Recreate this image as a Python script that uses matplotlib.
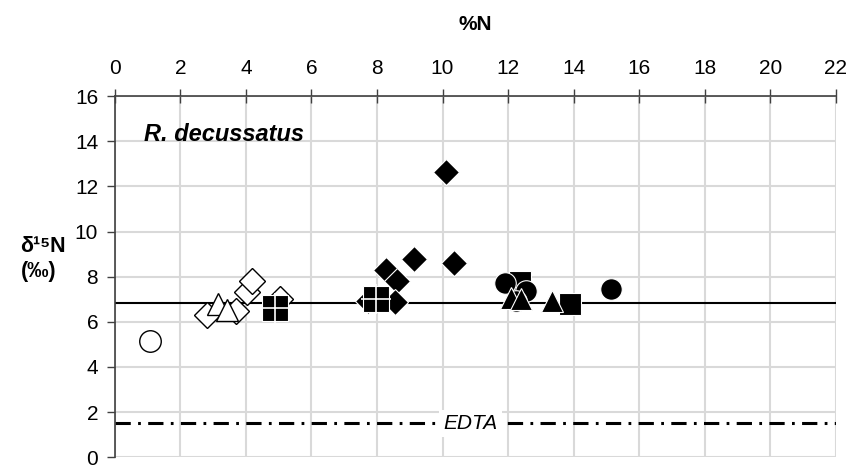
import matplotlib
matplotlib.use("Agg")
import matplotlib.pyplot as plt

# %N (x) and d15N (y) by sample group
open_circle_x = [1.07]
open_circle_y = [5.13]
open_diamond_x = [2.80, 3.71, 4.02, 4.17, 5.04]
open_diamond_y = [6.31, 6.49, 7.30, 7.81, 7.00]
open_triangle_x = [3.15, 3.41]
open_triangle_y = [6.80, 6.52]
filled_diamond_x = [10.12, 9.12, 10.35, 8.27, 8.60, 7.73, 8.54]
filled_diamond_y = [12.66, 8.77, 8.59, 8.30, 7.81, 6.93, 6.90]
cross_square_x = [4.88, 7.97]
cross_square_y = [6.62, 7.02]
filled_square_x = [12.35, 13.90]
filled_square_y = [7.75, 6.78]
filled_circle_x = [11.90, 12.56, 12.25, 15.15]
filled_circle_y = [7.74, 7.37, 6.93, 7.47]
filled_triangle_x = [12.10, 12.41, 13.33]
filled_triangle_y = [7.07, 7.00, 6.93]

reference_level = 6.85
edta_level = 1.5

x_ticks = list(range(0, 23, 2))
y_ticks = list(range(0, 17, 2))

narrow = ["Liberation Sans Narrow", "Liberation Sans", "DejaVu Sans"]
regular = ["Liberation Sans", "DejaVu Sans"]

fig = plt.figure(figsize=(8.51, 4.67), dpi=100)
ax = fig.add_axes([0.135, 0.021, 0.847, 0.773])
ax.set_xlim(0, 22)
ax.set_ylim(0, 16)

ax.set_xticks(x_ticks)
ax.set_yticks(y_ticks)
ax.grid(True, color="#d9d9d9", lw=1.5, zorder=0)
ax.set_axisbelow(True)

ax.xaxis.tick_top()
ax.xaxis.set_label_position("top")
ax.tick_params(axis="x", direction="inout", length=10, width=1, color="#404040",
               pad=8, labelsize=15)
ax.tick_params(axis="y", direction="out", length=6, width=1, color="#404040",
               pad=6, labelsize=15)
for lab in ax.get_xticklabels() + ax.get_yticklabels():
    lab.set_family(narrow)

for side in ("bottom", "right"):
    ax.spines[side].set_visible(False)
for side in ("left", "top"):
    ax.spines[side].set_color("#404040")
    ax.spines[side].set_linewidth(1.2)

ax.set_xlabel("%N", fontsize=15, fontweight="bold", family=regular, labelpad=21)

# Reference levels
ax.axhline(reference_level, color="black", lw=1.5, zorder=2)
ax.axhline(edta_level, color="black", lw=2.2, ls=(0, (5.0, 2.4, 0.9, 2.4)), zorder=2)
ax.text(10.85, edta_level, "EDTA", fontsize=15, style="italic", family=narrow,
        ha="center", va="center", zorder=3,
        bbox=dict(facecolor="white", edgecolor="none", pad=3))

ms = 15.5
open_kw = dict(ls="none", mfc="white", mec="black", mew=1.0, zorder=4)
filled_kw = dict(ls="none", mfc="black", mec="white", mew=0.8, zorder=5)

ax.plot(open_circle_x, open_circle_y, marker="o", ms=ms, **open_kw)
ax.plot(open_diamond_x, open_diamond_y, marker="D", ms=ms * 0.85, **open_kw)
ax.plot(open_triangle_x, open_triangle_y, marker="^", ms=ms, **open_kw)
ax.plot(filled_diamond_x, filled_diamond_y, marker="D", ms=ms * 0.85, **filled_kw)
ax.plot(cross_square_x, cross_square_y, marker="s", ms=ms * 1.2, **filled_kw)
ax.plot(cross_square_x, cross_square_y, marker="+", ms=ms * 1.35, ls="none",
        color="white", mew=1.2, zorder=5)
ax.plot(filled_square_x, filled_square_y, marker="s", ms=ms, **filled_kw)
ax.plot(filled_circle_x, filled_circle_y, marker="o", ms=ms, **filled_kw)
ax.plot(filled_triangle_x, filled_triangle_y, marker="^", ms=ms * 1.05, **filled_kw)

ax.text(0.9, 14.3, "R. decussatus", fontsize=17, fontweight="bold",
        style="italic", family=regular, ha="left", va="center")

fig.text(0.024, 0.472, "δ¹⁵N", fontsize=15.5, fontweight="bold", family=regular,
         ha="left", va="center")
fig.text(0.024, 0.418, "(‰)", fontsize=15.5, fontweight="bold", family=regular,
         ha="left", va="center")

fig.savefig("out.png", dpi=100)
